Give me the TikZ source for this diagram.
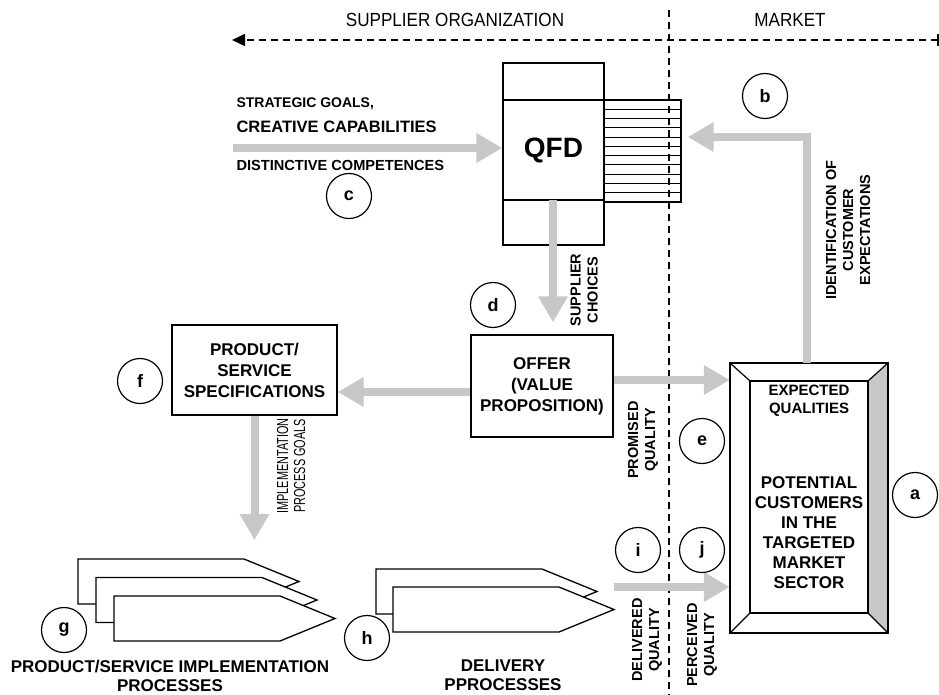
\documentclass[tikz,border=0pt]{standalone}
\usepackage{fontspec}
\setmainfont{Liberation Sans}
\newfontfamily\narrowsans[FakeStretch=0.9]{Liberation Sans}
\newfontfamily\narrowersans[FakeStretch=0.68]{Liberation Sans}
\usetikzlibrary{arrows.meta}
\begin{document}
\begin{tikzpicture}[x=1pt,y=-1pt,
  tag/.style={circle,draw,line width=1.2pt,minimum size=45pt,inner sep=0pt,
    font=\fontsize{18}{18}\selectfont\bfseries},
  fat/.style={line width=8pt,draw=black!22,line join=miter,
    -{Triangle[width=28pt,length=26pt]}},
  plainbox/.style={draw,line width=1.3pt,fill=white,align=center,inner sep=0pt,
    font=\fontsize{17}{21}\selectfont\bfseries},
  divider/.style={line width=1.7pt,dash pattern=on 7pt off 5pt},
  side/.style={rotate=90,align=center,font=\fontsize{14.5}{17}\selectfont\bfseries},
  sidelight/.style={rotate=90,align=center,font=\narrowersans\fontsize{16}{17}\selectfont},
  caption/.style={align=center,font=\fontsize{17}{20}\selectfont\bfseries},
  region/.style={font=\narrowsans\fontsize{19}{19}\selectfont},
  procline/.style={draw,line width=1.3pt,fill=white,line join=miter}
]
\useasboundingbox (0,0) rectangle (939,695);

% ---- dividing lines: supplier side / market side ----
\coordinate (dtop) at (669,10);
\coordinate (dbot) at (669,695);
\coordinate (hl) at (232,40);
\coordinate (hr) at (938,40);
\draw[divider] (dtop) -- (dbot);
\draw[divider,-{Triangle[length=13pt,width=12pt]}] (hr) -- (hl);
\draw[line width=1.5pt] (938,34) -- (938,46);
\node[region] (supp) at (455,20) {SUPPLIER ORGANIZATION};
\node[region] (mkt) at (790,20) {MARKET};

% ---- QFD house ----
\node[draw,line width=1.3pt,minimum width=101pt,minimum height=37pt,inner sep=0pt] (roof) at (553.5,81.5) {};
\node[draw,line width=1.3pt,minimum width=101pt,minimum height=45pt,inner sep=0pt] (base) at (553.5,222.5) {};
\node[draw,line width=1.3pt,minimum width=101pt,minimum height=100pt,inner sep=0pt,
  font=\fontsize{28}{28}\selectfont\bfseries] (qfd) at (553.5,150) {QFD};
\node[draw,line width=1.3pt,minimum width=77pt,minimum height=102pt,inner sep=0pt] (mat) at (642.5,151) {};
\foreach \k in {1,...,10}
  \draw[line width=1.1pt] (604,100+9.27*\k) -- (681,100+9.27*\k);

% ---- boxes ----
\node[plainbox,minimum width=142pt,minimum height=102pt] (offer) at (542,386)
  {OFFER\\(VALUE\\PROPOSITION)};
\node[plainbox,minimum width=165pt,minimum height=90pt] (spec) at (254.5,370)
  {PRODUCT/\\SERVICE\\SPECIFICATIONS};

% ---- customers (bevelled frame) ----
\node[minimum width=158pt,minimum height=270pt,inner sep=0pt] (cust) at (809,498) {};
\fill[black!22] (868,381) -- (888,363) -- (888,633) -- (868,613) -- cycle;
\draw[line width=1.7pt] (cust.north west) rectangle (cust.south east);
\draw[line width=1.3pt] (750,381) rectangle (868,613);
\draw[line width=1.2pt] (cust.north west) -- (750,381)
  (cust.north east) -- (868,381)
  (cust.south west) -- (750,613)
  (cust.south east) -- (868,613);
\node[caption,font=\fontsize{15}{18}\selectfont\bfseries] (expq) at (809,401) {EXPECTED\\QUALITIES};
\node[caption] (pot) at (809,533) {POTENTIAL\\CUSTOMERS\\IN THE\\TARGETED\\MARKET\\SECTOR};

% ---- process shapes ----
\newcommand{\procshape}[2]{%
  \draw[procline] (#1,#2) -- ++(166,0) -- ++(55,22.5) -- ++(-55,22.5) -- ++(-166,0) -- cycle;}
\procshape{78}{559}
\procshape{96}{577.5}
\procshape{114}{596}
\procshape{376}{569}
\procshape{393}{587}
\coordinate (implfront) at (114,596);
\coordinate (delfront) at (393,587);

% ---- flows ----
\coordinate (cin) at (233,148);
\draw[fat] (cin) -- (qfd.west |- cin);
\coordinate (choose) at (553,200);
\draw[fat,shorten >=12pt] (choose) -- (choose |- offer.north);
\coordinate (wish) at (807,137);
\draw[fat,shorten >=6pt] (cust.north -| wish) -- (wish) -- (mat.east |- wish);
\coordinate (tospec) at (0,392);
\draw[fat] (offer.west |- tospec) -- (spec.east |- tospec);
\coordinate (promise) at (0,380);
\draw[fat] (offer.east |- promise) -- (cust.west |- promise);
\coordinate (goal) at (254.5,0);
\draw[fat,shorten >=56pt] (spec.south) -- (goal |- implfront);
\coordinate (deliv) at (614,587);
\draw[fat] (deliv) -- (cust.west |- deliv);

% ---- flow texts ----
\node[anchor=west,font=\fontsize{14}{14}\selectfont\bfseries] (sg) at (233,104) {STRATEGIC GOALS,};
\node[anchor=west,font=\fontsize{16.5}{16.5}\selectfont\bfseries] (cc) at (233,127) {CREATIVE CAPABILITIES};
\node[anchor=west,font=\fontsize{14.6}{14.6}\selectfont\bfseries] (dc) at (233,165) {DISTINCTIVE COMPETENCES};
\node[side] (sc) at (584,290) {SUPPLIER\\CHOICES};
\node[side] (ice) at (848,230) {IDENTIFICATION OF\\CUSTOMER\\EXPECTATIONS};
\node[side] (pq) at (643,440) {PROMISED\\QUALITY};
\node[side] (dq) at (647,640) {DELIVERED\\QUALITY};
\node[side] (peq) at (702,645) {PERCEIVED\\QUALITY};
\node[sidelight] (ipg) at (291,466) {IMPLEMENTATION\\PROCESS GOALS};
\node[caption,font=\fontsize{17}{19}\selectfont\bfseries] (implcap) at (170,675.5) {PRODUCT/SERVICE IMPLEMENTATION\\PROCESSES};
\node[caption,font=\fontsize{17}{19}\selectfont\bfseries] (delcap) at (503,675.5) {DELIVERY\\PPROCESSES};

% ---- reference letters ----
\node[tag] (a) at (915,495) {a};
\node[tag] (b) at (765,96) {b};
\node[tag] (c) at (349,196) {c};
\node[tag] (d) at (493,305) {d};
\node[tag] (e) at (702,441) {e};
\node[tag] (f) at (140,381) {f};
\node[tag] (g) at (64,630) {g};
\node[tag] (h) at (367,638) {h};
\node[tag] (i) at (638,550) {i};
\node[tag] (j) at (702,550) {j};
\end{tikzpicture}
\end{document}
